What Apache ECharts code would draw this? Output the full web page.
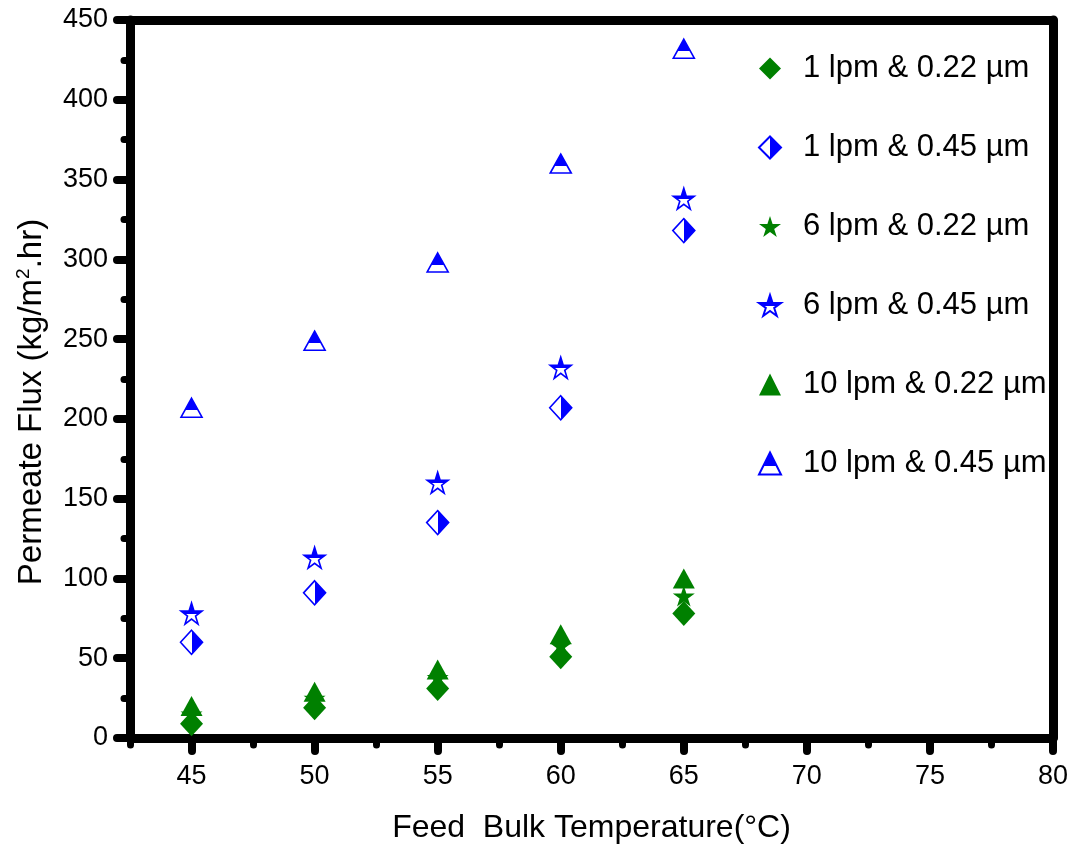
<!DOCTYPE html>
<html>
<head>
<meta charset="utf-8">
<style>
  html, body { margin: 0; padding: 0; background: #fff; }
  #chart { width: 1068px; height: 845px; }
</style>
<script src="https://cdn.jsdelivr.net/npm/echarts@6/dist/echarts.min.js"></script>
</head>
<body>
<div id="chart"></div>
<script>
// Feed bulk temperature (°C)
const temperatures = [45, 50, 55, 60, 65];

// Permeate flux (kg/m².hr) for each flow rate & membrane pore size
const flux1lpm022 = [9, 19, 31, 51, 78];
const flux1lpm045 = [60, 91, 135, 207, 318];
const flux6lpm022 = [15, 25, 38, 58, 89];
const flux6lpm045 = [78, 113, 160, 232, 338];
const flux10lpm022 = [20, 29, 43, 65, 100];
const flux10lpm045 = [207, 249, 298, 360, 432];

const seriesNames = [
  '1 lpm & 0.22 µm', '1 lpm & 0.45 µm',
  '6 lpm & 0.22 µm', '6 lpm & 0.45 µm',
  '10 lpm & 0.22 µm', '10 lpm & 0.45 µm'
];

// Axis tick values
const xMajorTicks = [45, 50, 55, 60, 65, 70, 75, 80];
const xMinorTicks = [42.5, 47.5, 52.5, 57.5, 62.5, 67.5, 72.5, 77.5];

const GREEN = '#008000';
const BLUE = '#0000ff';
const FONT = '"Liberation Sans", Arial, sans-serif';

const STAR = 'path://M50 0 L61.23 34.55 L97.55 34.55 L68.17 55.9 L79.39 90.45 L50 69.1 L20.61 90.45 L31.83 55.9 L2.45 34.55 L38.77 34.55 Z';

// two-tone fill: solid colour on one side, white on the other
function split(horizontal, at, firstColor, secondColor) {
  return {
    type: 'linear', x: 0, y: 0,
    x2: horizontal ? 1 : 0, y2: horizontal ? 0 : 1,
    colorStops: [
      { offset: 0, color: firstColor },
      { offset: at, color: firstColor },
      { offset: at, color: secondColor },
      { offset: 1, color: secondColor }
    ]
  };
}

function pairs(vals) {
  return temperatures.map((t, i) => [t, vals[i]]);
}

const seriesDefs = [
  { data: flux1lpm022, symbol: 'diamond', size: [23, 25], color: GREEN },
  { data: flux1lpm045, symbol: 'diamond', size: [22, 24], color: split(true, 0.5, '#ffffff', BLUE), border: BLUE },
  { data: flux6lpm022, symbol: STAR, size: [22, 21], color: GREEN },
  { data: flux6lpm045, symbol: STAR, size: [21, 21], color: split(false, 0.52, BLUE, '#ffffff'), border: BLUE },
  { data: flux10lpm022, symbol: 'triangle', size: [22, 20], color: GREEN },
  { data: flux10lpm045, symbol: 'triangle', size: [21, 19], color: split(false, 0.62, BLUE, '#ffffff'), border: BLUE }
];

const series = seriesDefs.map((d, i) => ({
  name: seriesNames[i],
  type: 'scatter',
  xAxisIndex: 0,
  yAxisIndex: 0,
  data: pairs(d.data),
  symbol: d.symbol,
  symbolSize: d.size,
  itemStyle: {
    color: d.color,
    borderColor: d.border || d.color,
    borderWidth: d.border ? 1.6 : 0,
    opacity: 1
  },
  emphasis: { disabled: true }
}));

const AXIS_W = 9;
const axisLine = { show: true, onZero: false, lineStyle: { color: '#000', width: AXIS_W } };

const chart = echarts.init(document.getElementById('chart'), null, { renderer: 'canvas' });
chart.setOption({
  animation: false,
  backgroundColor: '#fff',
  textStyle: { fontFamily: FONT },
  grid: { left: 130, right: 15, top: 20, bottom: 107, containLabel: false, outerBoundsMode: 'none' },
  legend: {
    orient: 'vertical',
    left: 753,
    top: 48,
    itemWidth: 22,
    itemHeight: 22,
    itemGap: 48,
    selectedMode: false,
    textStyle: { fontSize: 31, color: '#000', fontFamily: FONT, padding: [0, 0, 0, 17] },
    data: seriesNames
  },
  xAxis: [
    {
      type: 'value', position: 'bottom', min: 42.5, max: 80,
      axisLine: axisLine,
      axisTick: {
        show: true, inside: false, length: 13, customValues: xMajorTicks,
        lineStyle: { color: '#000', width: 8, cap: 'round' }
      },
      axisLabel: {
        customValues: xMajorTicks, margin: 25, fontSize: 27, color: '#000', fontFamily: FONT
      },
      splitLine: { show: false },
      name: 'Feed  Bulk Temperature(°C)',
      nameLocation: 'middle',
      nameGap: 74,
      nameTextStyle: { fontSize: 32, color: '#000', fontFamily: FONT }
    },
    {
      type: 'value', position: 'bottom', min: 42.5, max: 80,
      axisLine: { show: false },
      axisTick: {
        show: true, length: 7, customValues: xMinorTicks,
        lineStyle: { color: '#000', width: 7, cap: 'round' }
      },
      axisLabel: { show: false },
      splitLine: { show: false }
    },
    {
      type: 'value', position: 'top', min: 42.5, max: 80,
      axisLine: axisLine,
      axisTick: { show: false },
      axisLabel: { show: false },
      splitLine: { show: false }
    }
  ],
  yAxis: [
    {
      type: 'value', position: 'left', min: 0, max: 450, interval: 50,
      axisLine: axisLine,
      axisTick: { show: true, length: 13, lineStyle: { color: '#000', width: 8, cap: 'round' } },
      minorTick: { show: true, splitNumber: 2, length: 6, lineStyle: { color: '#000', width: 7, cap: 'round' } },
      axisLabel: { margin: 22, fontSize: 27, color: '#000', fontFamily: FONT },
      splitLine: { show: false },
      minorSplitLine: { show: false },
      name: '{t|Permeate Flux (kg/m}{s|2}{t|.hr)}',
      nameLocation: 'middle',
      nameGap: 80,
      nameRotate: 90,
      nameTextStyle: {
        color: '#000', fontFamily: FONT, padding: [0, 46, 0, 0],
        rich: {
          t: { fontSize: 33, color: '#000', fontFamily: FONT, lineHeight: 36 },
          s: { fontSize: 19, color: '#000', fontFamily: FONT, verticalAlign: 'top', lineHeight: 36 }
        }
      }
    },
    {
      type: 'value', position: 'right', min: 0, max: 450, interval: 50,
      axisLine: axisLine,
      axisTick: { show: false },
      axisLabel: { show: false },
      splitLine: { show: false }
    }
  ],
  series: series
});
</script>
</body>
</html>
